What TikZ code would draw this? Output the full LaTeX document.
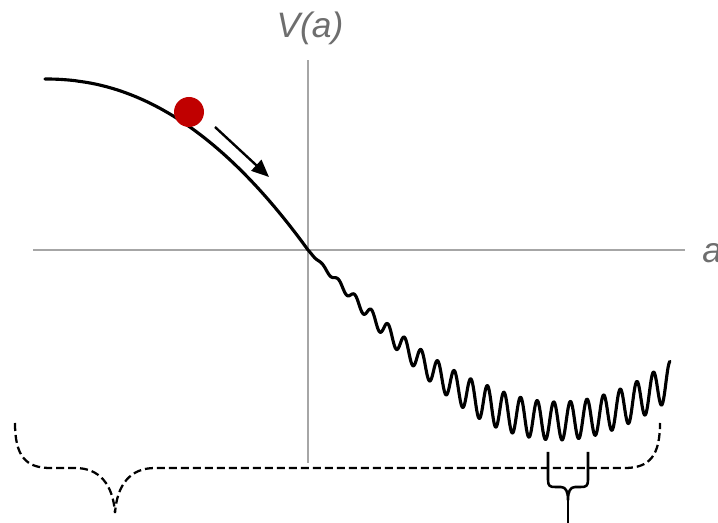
\documentclass[tikz,border=0pt]{standalone}
\usepackage{fontspec}
\setsansfont{Liberation Sans}
\usetikzlibrary{arrows.meta}
\definecolor{axisgray}{HTML}{A6A6A6}
\definecolor{labelgray}{HTML}{6E6E6E}
\definecolor{ballred}{HTML}{C00000}
\begin{document}
\begin{tikzpicture}[
  x=0.75pt, y=-0.75pt,
  axis/.style={draw=axisgray, line width=0.8pt},
  axlabel/.style={font=\sffamily\itshape\fontsize{26.5}{30}\selectfont, text=labelgray, inner sep=0pt},
  potential/.style={line width=2.35pt, line join=round, line cap=round},
  push/.style={-{Triangle[length=13pt, width=11pt]}, line width=1.8pt},
  bracedash/.style={dashed, dash pattern=on 6pt off 3pt, line width=1.7pt},
  bracesolid/.style={line width=1.9pt, line join=round},
]
\useasboundingbox (0,0) rectangle (718,523);

% axes
\coordinate (origin) at (308,250);
\coordinate (ytop) at (308,60);
\coordinate (ybot) at (308,463);
\coordinate (xleft) at (33,250);
\coordinate (xright) at (685,250);
\draw[axis] (ybot) -- (ytop);
\draw[axis] (xleft) -- (xright);
\node[axlabel] (vlabel) at (310,28) {V(a)};
\node[axlabel, anchor=west] (alabel) at (702,253) {a};

% potential with wiggles past the origin
\draw[potential] (45,79)
  -- plot[domain=46:308, samples=90] (\x, {79+171*((\x-45)/263)^2.13})
  -- plot[domain=308:670, samples=900]
     (\x, {250+171*sin(0.36*(\x-308)) - min(19,0.105*(\x-308))*cos(21.687*(\x-338))});

% rolling ball
\node[circle, fill=ballred, minimum size=22.5pt, inner sep=0pt] (ball) at (189,112) {};
\coordinate (pushstart) at (215,127);
\coordinate (pushend) at (269,177);
\draw[push] (pushstart) -- (pushend);

% braces
\draw[bracedash] (15,423) .. controls (15,455) and (25,468) .. (50,468) -- (75,468)
  .. controls (100,468) and (113,485) .. (115,513)
  .. controls (117,485) and (130,468) .. (155,468) -- (625,468)
  .. controls (650,468) and (660,455) .. (660,423);
\draw[bracesolid] (548,452) -- (548,480) .. controls (548,486) and (550,487) .. (555,487) -- (561,487)
  .. controls (566,487) and (568,492) .. (568,500)
  .. controls (568,492) and (570,487) .. (575,487) -- (581,487)
  .. controls (586,487) and (588,486) .. (588,480) -- (588,452);
\draw[bracesolid] (568,498) -- (568,523);
\end{tikzpicture}
\end{document}
